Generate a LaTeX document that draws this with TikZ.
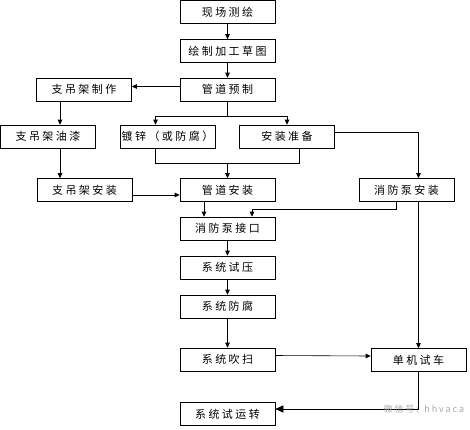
\documentclass[tikz,border=0pt]{standalone}
\usepackage{fontspec}
\newfontfamily\cjk[LetterSpace=22]{Noto Sans CJK SC}
\usetikzlibrary{arrows.meta}

\begin{document}
\begin{tikzpicture}[x=1pt,y=-1pt,
  box/.style={draw,line width=0.6pt,minimum width=95pt,minimum height=23pt,inner sep=0pt,font=\cjk\fontsize{11}{11}\selectfont},
  arr/.style={-{Triangle[length=5pt,width=4.5pt]},line width=0.6pt},
  bigarr/.style={-{Triangle[length=8pt,width=7pt]},line width=0.6pt},
  line/.style={line width=0.6pt}]

\useasboundingbox (0,0) rectangle (470,429);

\node[box] (xc) at (227.5,12) {现场测绘};
\node[box] (ht) at (227.5,51) {绘制加工草图};
\node[box] (yz) at (227.5,89.5) {管道预制};
\node[box] (zz) at (84,89.5) {支吊架制作};
\node[box] (yq) at (48,136.5) {支吊架油漆};
\node[box] (dx) at (167.5,136.5) {镀锌（或防腐）};
\node[box] (zb) at (287,136.5) {安装准备};
\node[box] (za) at (84.5,190) {支吊架安装};
\node[box] (ga) at (227.5,190) {管道安装};
\node[box] (xa) at (406.5,190) {消防泵安装};
\node[box] (jk) at (227.5,228.5) {消防泵接口};
\node[box] (sy) at (227.5,267.5) {系统试压};
\node[box] (sf) at (227.5,306.5) {系统防腐};
\node[box] (cs) at (227.5,359.5) {系统吹扫};
\node[box] (dj) at (418.5,360) {单机试车};
\node[box] (yx) at (227.5,414) {系统试运转};

\coordinate (c1) at (60,0);
\coordinate (c2) at (155.5,0);
\coordinate (c3) at (299,0);
\coordinate (c5) at (204,0);
\coordinate (c6) at (396,0);
\coordinate (c7) at (252,0);
\coordinate (j1) at (227.5,116);
\coordinate (j2) at (227.5,163);
\coordinate (j3) at (252,209);

\draw[arr] (xc) -- (ht);
\draw[arr] (ht) -- (yz);
\draw[arr] ([yshift=3pt]yz.west) -- ([yshift=3pt]zz.east);
\draw[arr] (zz.south -| c1) -- (yq.north -| c1);
\draw[arr] (yq.south -| c1) -- (za.north -| c1);

\draw[line] (yz.south) -- (j1);
\draw[arr] (j1) -| (dx.north -| c2);
\draw[arr] (j1) -| (zb.north);
\draw[line] (dx.south -| c2) |- (j2);
\draw[line] (zb.south -| c3) |- (j2);
\draw[arr] (j2) -- (ga.north);
\draw[arr] ([yshift=4.5pt]zb.east) -| (xa.north -| dj.north);
\draw[arr] ([yshift=-5pt]za.east) -- ([yshift=-5pt]ga.west);

\draw[arr] (ga.south -| c5) -- (jk.north -| c5);
\draw[line] (xa.south -| c6) |- (j3);
\draw[arr] (j3) -- (jk.north -| c7);
\draw[arr] (xa.south -| dj.north) -- (dj.north);

\draw[arr] (jk) -- (sy);
\draw[arr] (sy) -- (sf);
\draw[arr] (sf) -- (cs);
\draw[arr] ([yshift=4pt]cs.east) -- ([yshift=4pt]dj.west);
\draw[bigarr] (dj.south) |- ([yshift=5pt]yx.east);

\node[text=gray!70,font=\cjk\fontsize{9}{9}\selectfont,anchor=west] (wm) at (380,409) {微信号: hhvaca};

\end{tikzpicture}
\end{document}
